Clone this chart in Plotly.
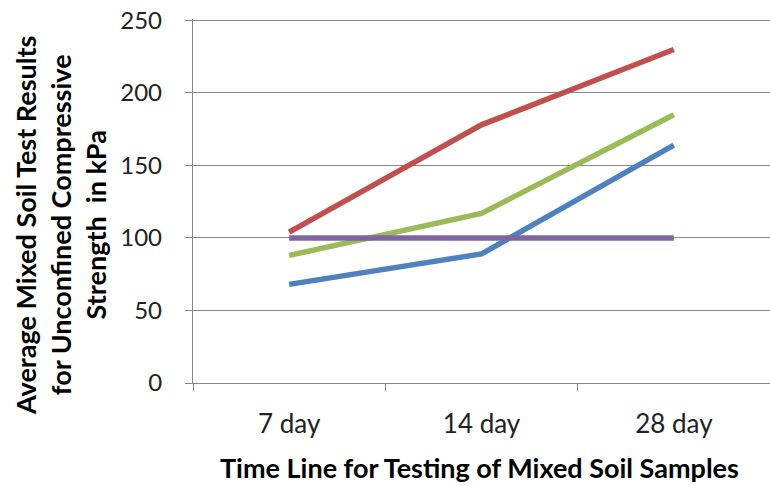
import plotly.graph_objects as go

categories = ["7 day", "14 day", "28 day"]
blue_vals = [68, 89, 164]
red_vals = [104, 178, 230]
green_vals = [88, 117, 185]
purple_vals = [100, 100, 100]
y_ticks = [0, 50, 100, 150, 200, 250]

x_title = "Time Line for Testing of Mixed Soil Samples"
y_title = "Average Mixed Soil Test Results<br>for Unconfined Compressive<br>Strength  in kPa"

series = [
    (blue_vals, "#4F81BD", "Series 1"),
    (red_vals, "#C0504D", "Series 2"),
    (green_vals, "#9BBB59", "Series 3"),
    (purple_vals, "#8064A2", "Series 4"),
]

fig = go.Figure()
for vals, color, name in series:
    fig.add_trace(go.Scatter(x=categories, y=vals, mode="lines", name=name,
                             line=dict(color=color, width=5.5)))

FONT = "Lato"
W, H = 770, 486
L, T, B = 193, 19, 103
PW = W - L
PH = H - T - B

fig.update_layout(
    width=W, height=H,
    margin=dict(l=L, r=0, t=T, b=B),
    paper_bgcolor="white", plot_bgcolor="white",
    showlegend=False,
    font=dict(family=FONT, color="#000000"),
)
fig.update_xaxes(
    type="category", range=[-0.5, 2.5], automargin=False,
    showline=True, linecolor="#868686", linewidth=1.3,
    ticks="outside", tickson="boundaries", ticklen=7, tickcolor="#868686",
    showgrid=False,
    tickfont=dict(size=26, color="#222222", family=FONT),
    ticklabelstandoff=18,
)
fig.update_yaxes(
    range=[0, 251], tickvals=y_ticks, automargin=False,
    showline=True, linecolor="#868686", linewidth=1.3,
    ticks="outside", ticklen=7, tickcolor="#868686",
    showgrid=True, gridcolor="#868686", gridwidth=1.3,
    zeroline=False, ticklabeloverflow="allow",
    tickfont=dict(size=24, color="#222222", family=FONT),
    ticklabelstandoff=18,
)

fig.add_annotation(
    text="<b>" + x_title + "</b>", xref="paper", yref="paper",
    x=(479 - L) / PW, y=(T + PH - 467) / PH,
    xanchor="center", yanchor="middle",
    showarrow=False, font=dict(size=27, family=FONT, color="#000000"),
)
fig.add_annotation(
    text="<b>" + y_title + "</b>", xref="paper", yref="paper",
    x=(60 - L) / PW, y=(T + PH - 226) / PH,
    xanchor="center", yanchor="middle",
    textangle=-90, showarrow=False, align="center",
    font=dict(size=27, family=FONT, color="#000000"),
)

fig.write_html(
    "out.html",
    config={"displayModeBar": False},
    post_script="document.body.style.margin='0';document.body.style.padding='0';",
)
